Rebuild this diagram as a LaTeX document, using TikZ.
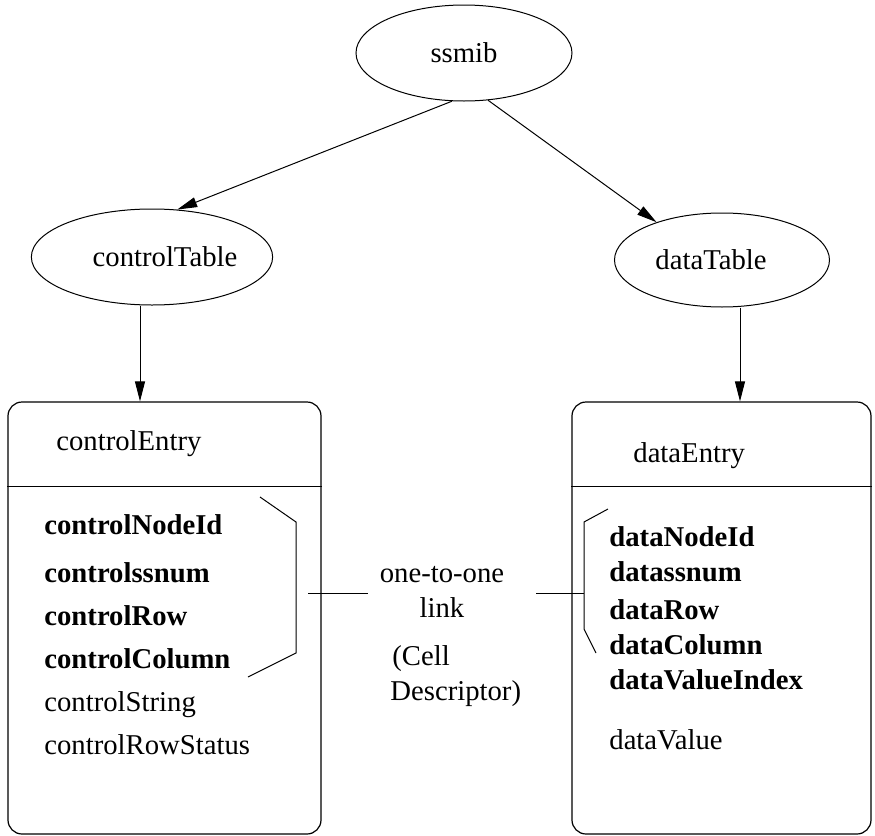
\documentclass[tikz,border=0pt]{standalone}
\usepackage{fontspec}
\setmainfont{Liberation Serif}
\usetikzlibrary{shapes.geometric,arrows.meta}
\begin{document}
\begin{tikzpicture}[x=0.5pt,y=-0.5pt,
  every node/.style={font=\fontsize{14.35}{17.5}\selectfont},
  oval/.style={draw,ellipse,inner sep=0pt,line width=0.5pt},
  entrybox/.style={draw,rectangle,rounded corners=7pt,line width=0.6pt,inner sep=0pt},
  txt/.style={anchor=base west,inner sep=0pt},
  ctxt/.style={anchor=base,inner sep=0pt},
  arr/.style={-{Triangle[length=10pt,width=5pt]},line width=0.5pt},
  thin line/.style={line width=0.5pt}]
\useasboundingbox[fill=white] (0,0) rectangle (875,836);

% tree of tables
\node[oval,minimum width=108pt,minimum height=48pt] (ssmib) at (464,53) {ssmib};
\node[oval,minimum width=109pt,minimum height=48pt] (ct) at (152,257) {\hspace*{13pt}controlTable};
\node[oval,minimum width=107.5pt,minimum height=47pt] (dt) at (722,260) {dataTable\hspace*{11pt}};

% entry boxes
\node[entrybox,minimum width=156.5pt,minimum height=216pt] (ce) at (164.5,618) {};
\node[entrybox,minimum width=149.5pt,minimum height=216pt] (de) at (721.5,618) {};
\coordinate (div) at (0,486);
\draw[thin line] (ce.west |- div) -- (ce.east |- div);
\draw[thin line] (de.west |- div) -- (de.east |- div);

% tree arrows
\draw[arr] (ssmib.256) -- (ct.62);
\draw[arr] (ssmib.297) -- (dt.150);
\coordinate (cx) at (140,0);
\coordinate (dx) at (740,0);
\draw[arr] (ct.south -| cx) -- (ce.north -| cx);
\draw[arr] (dt.south -| dx) -- (de.north -| dx);

% headers
\node[txt] (ceh) at (56,450) {controlEntry};
\node[txt] (deh) at (633,462) {dataEntry};

% control entry columns
\node[txt] (c1) at (44,534) {\bfseries controlNodeId};
\node[txt] (c2) at (44,582) {\bfseries controlssnum};
\node[txt] (c3) at (44,625) {\bfseries controlRow};
\node[txt] (c4) at (44,668) {\bfseries controlColumn};
\node[txt] (c5) at (44,711) {controlString};
\node[txt] (c6) at (44,754) {controlRowStatus};

% data entry columns
\node[txt] (d1) at (609,546) {\bfseries dataNodeId};
\node[txt] (d2) at (609,581) {\bfseries datassnum};
\node[txt] (d3) at (609,619) {\bfseries dataRow};
\node[txt] (d4) at (609,654) {\bfseries dataColumn};
\node[txt] (d5) at (609,689) {\bfseries dataValueIndex};
\node[txt] (d6) at (609,749) {dataValue};

% index brackets
\coordinate (la) at (260,497);
\coordinate (lb) at (296,522);
\coordinate (lc) at (296,653);
\coordinate (ld) at (248,677);
\draw[thin line] (la) -- (lb) -- (lc) -- (ld);
\coordinate (ra) at (608,509);
\coordinate (rb) at (584,522);
\coordinate (rc) at (584,629);
\coordinate (rd) at (596,653);
\draw[thin line] (ra) -- (rb) -- (rc) -- (rd);

% link between the indexes
\node[ctxt] (one) at (442,582) {one-to-one};
\node[ctxt] (lk) at (442,617) {link};
\node[txt] (cell) at (392,665) {(Cell};
\node[txt] (desc) at (390,700) {Descriptor)};
\coordinate (l1) at (308,593);
\coordinate (l2) at (368,593);
\coordinate (r1) at (536,593);
\draw[thin line] (l1) -- (l2);
\draw[thin line] (r1) -- (r1 -| rb);
\end{tikzpicture}
\end{document}
